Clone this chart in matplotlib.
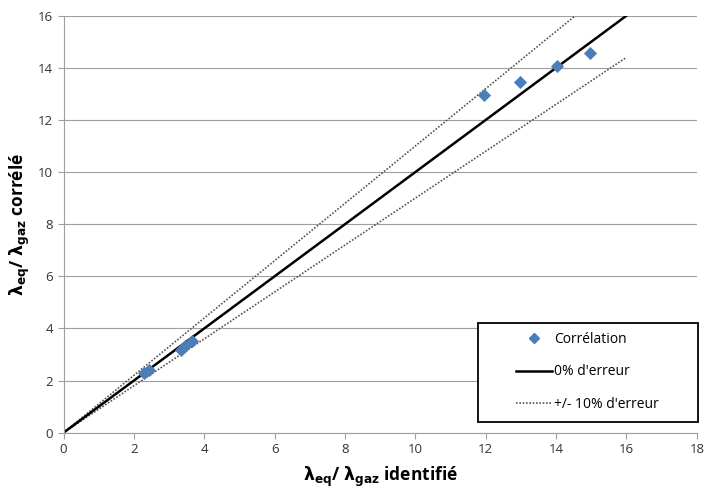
import matplotlib
matplotlib.use("Agg")
import matplotlib.pyplot as plt
import numpy as np
from matplotlib.lines import Line2D
from matplotlib.patches import Rectangle

plt.rcParams['font.family'] = ['Open Sans', 'DejaVu Sans']

x_corr = [2.30, 2.42, 3.34, 3.45, 3.66, 11.94, 12.97, 14.04, 14.97]
y_corr = [2.30, 2.42, 3.17, 3.33, 3.50, 12.96, 13.45, 14.07, 14.56]

x_ref = [0, 16]
x_up = [0, 14.55]
x_low = [0, 16]
err = 0.10

fig = plt.figure(figsize=(7.06, 4.90), dpi=100)
ax = fig.add_axes([0.09, 0.117, 0.897, 0.851])

ax.plot(x_up, [v * (1 + err) for v in x_up], color='#555555', lw=1.2, ls=(0, (1, 1)))
ax.plot(x_low, [v * (1 - err) for v in x_low], color='#555555', lw=1.2, ls=(0, (1, 1)))
ax.plot(x_ref, x_ref, color='black', lw=1.8)
ax.scatter(x_corr, y_corr, marker='D', s=45, color='#4a7ebb', zorder=5, linewidths=0)

ax.set_xlim(0, 18)
ax.set_ylim(0, 16)
ax.set_xticks(np.arange(0, 19, 2))
ax.set_yticks(np.arange(0, 17, 2))
ax.grid(axis='y', color='#a0a0a0', lw=0.8)
ax.set_axisbelow(True)
for s in ['top', 'right']:
    ax.spines[s].set_visible(False)
for s in ['left', 'bottom']:
    ax.spines[s].set_color('#a0a0a0')
ax.tick_params(axis='both', colors='#a0a0a0', labelcolor='#333333', labelsize=9.5, length=4)

ax.set_xlabel(r'$\mathbf{\lambda_{eq}}$/ $\mathbf{\lambda_{gaz}}$ identifié', fontsize=12.5, fontweight='bold', labelpad=6)
ax.set_ylabel(r'$\mathbf{\lambda_{eq}}$/ $\mathbf{\lambda_{gaz}}$ corrélé', fontsize=12.5, fontweight='bold', labelpad=4)

# legend frame
fig.patches.append(Rectangle((478 / 706, 1 - 422 / 490), 220 / 706, 99 / 490,
                             transform=fig.transFigure, facecolor='white',
                             edgecolor='black', lw=1.3, zorder=10))

handles = [
    Line2D([], [], marker='D', color='#4a7ebb', ls='none', markersize=5.5),
    Line2D([], [], color='black', lw=1.8),
    Line2D([], [], color='#555555', lw=1.2, ls=(0, (1, 1))),
]
labels = ['Corrélation', "0% d'erreur", "+/- 10% d'erreur"]
leg = fig.legend(handles, labels, loc='center', bbox_to_anchor=(0.832, 0.241),
                 frameon=False, fontsize=10, labelspacing=1.25, borderpad=0.0,
                 handlelength=2.6, handletextpad=0.2)
leg.set_zorder(11)

fig.savefig('out.png', dpi=100)
